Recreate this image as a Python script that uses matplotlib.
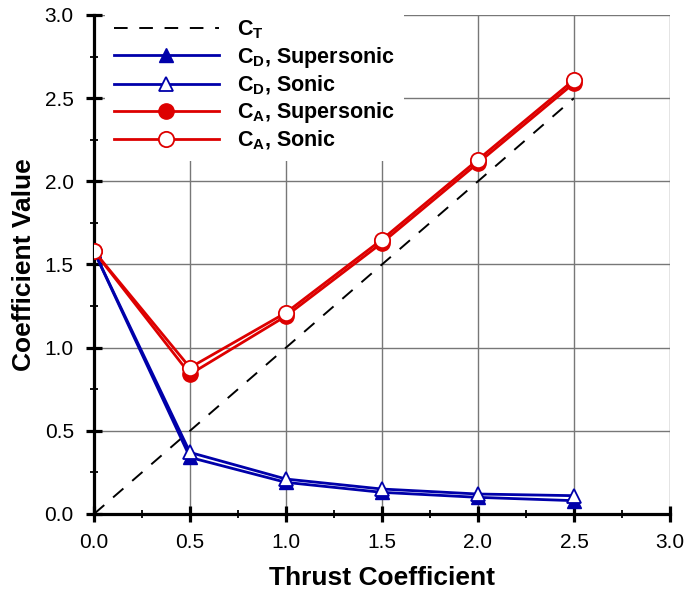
import matplotlib.pyplot as plt
from matplotlib.ticker import MultipleLocator

plt.rcParams['font.family'] = 'Liberation Sans'
plt.rcParams['mathtext.fontset'] = 'custom'
plt.rcParams['mathtext.rm'] = 'Liberation Sans'
plt.rcParams['mathtext.bf'] = 'Liberation Sans:bold'

# Thrust coefficient values
thrust = [0.0, 0.5, 1.0, 1.5, 2.0, 2.5]

# Drag and axial coefficients for both nozzle types
cd_supersonic = [1.58, 0.34, 0.19, 0.13, 0.10, 0.08]
cd_sonic = [1.58, 0.37, 0.21, 0.15, 0.12, 0.11]
ca_supersonic = [1.58, 0.84, 1.19, 1.63, 2.11, 2.59]
ca_sonic = [1.58, 0.88, 1.21, 1.65, 2.13, 2.61]

blue = '#0000aa'
red = '#dd0000'

fig = plt.figure(figsize=(6.84, 5.92), dpi=100)
ax = fig.add_axes([0.1374, 0.1318, 0.8421, 0.8429])

# C_T reference line
ax.plot(thrust, thrust, color='black', linestyle=(0, (7, 6)), linewidth=1.4,
        label=r'$\mathbf{C_T}$', zorder=3)

ax.plot(thrust, cd_supersonic, color=blue, linewidth=2.0, marker='^', markersize=10,
        markerfacecolor=blue, markeredgecolor=blue, label=r'$\mathbf{C_D}$, Supersonic', zorder=4)
ax.plot(thrust, cd_sonic, color=blue, linewidth=2.0, marker='^', markersize=10,
        markerfacecolor='white', markeredgecolor=blue, markeredgewidth=1.3,
        label=r'$\mathbf{C_D}$, Sonic', zorder=5)
ax.plot(thrust, ca_supersonic, color=red, linewidth=2.0, marker='o', markersize=11,
        markerfacecolor=red, markeredgecolor=red, label=r'$\mathbf{C_A}$, Supersonic', zorder=4)
ax.plot(thrust, ca_sonic, color=red, linewidth=2.0, marker='o', markersize=11,
        markerfacecolor='white', markeredgecolor=red, markeredgewidth=1.3,
        label=r'$\mathbf{C_A}$, Sonic', zorder=5)

ax.set_xlim(0, 3.0)
ax.set_ylim(0, 3.0)
ax.xaxis.set_major_locator(MultipleLocator(0.5))
ax.yaxis.set_major_locator(MultipleLocator(0.5))
ax.xaxis.set_minor_locator(MultipleLocator(0.25))
ax.yaxis.set_minor_locator(MultipleLocator(0.25))
ax.xaxis.set_major_formatter(lambda v, p: f'{v:.1f}')
ax.yaxis.set_major_formatter(lambda v, p: f'{v:.1f}')

ax.grid(True, which='major', color='#777777', linewidth=1.0)
ax.set_axisbelow(True)
for side in ['top', 'right']:
    ax.spines[side].set_visible(False)
for side in ['left', 'bottom']:
    ax.spines[side].set_linewidth(2.3)
ax.tick_params(which='major', direction='inout', length=11, width=2.3, labelsize=15)
ax.tick_params(axis='x', which='major', pad=8)
ax.tick_params(axis='y', which='major', pad=9)
ax.tick_params(which='minor', direction='inout', length=6, width=1.3)

ax.set_xlabel('Thrust Coefficient', fontsize=19, fontweight='bold', labelpad=10)
ax.set_ylabel('Coefficient Value', fontsize=19, fontweight='bold', labelpad=6)

leg = ax.legend(loc='upper left', bbox_to_anchor=(0.019, 1.01), fontsize=15.5, frameon=True,
                facecolor='white', edgecolor='none', framealpha=1, fancybox=False,
                handlelength=4.9, handletextpad=0.85, borderaxespad=0.0,
                labelspacing=0.17, borderpad=0.4)
for t in leg.get_texts():
    t.set_fontweight('bold')

plt.savefig('out.png', dpi=100)
